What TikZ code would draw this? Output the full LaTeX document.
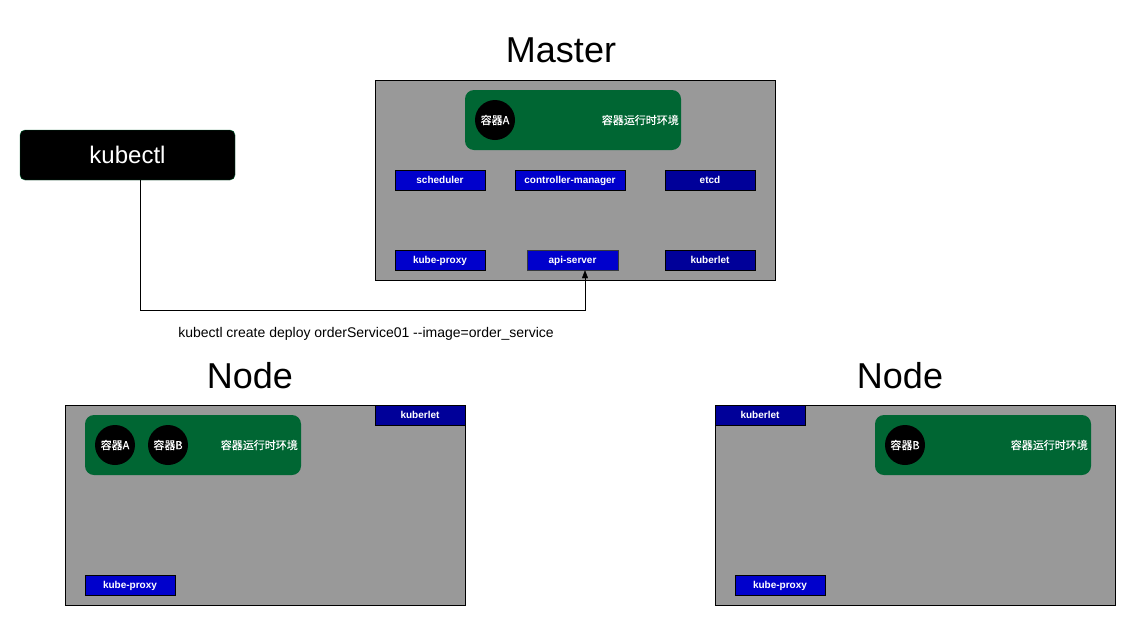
\documentclass[tikz,border=0pt]{standalone}
\usepackage{fontspec}
\setmainfont{Liberation Sans}
\newfontfamily\cjk{Noto Sans CJK SC}[FakeBold=0.4]
\usetikzlibrary{arrows.meta}
\definecolor{boxgrey}{HTML}{999999}
\definecolor{rtgreen}{HTML}{006633}
\definecolor{compblue}{HTML}{0000CC}
\definecolor{darkblue}{HTML}{000099}
\definecolor{edgegrey}{HTML}{36393D}
\begin{document}
\begin{tikzpicture}[x=1pt,y=-1pt]
    \tikzstyle{every node}+=[inner sep=0pt]
    \tikzstyle{host}=[draw=black,fill=boxgrey,minimum width=400pt,minimum height=200pt]
    \tikzstyle{runtime}=[fill=rtgreen,rounded corners=9pt,minimum width=216pt,minimum height=60pt]
    \tikzstyle{pod}=[circle,fill=black,minimum size=40pt,text=white,font=\cjk\fontsize{11}{11}\selectfont]
    \tikzstyle{rttext}=[anchor=east,text=white,font=\cjk\fontsize{11}{11}\selectfont]
    \tikzstyle{comp}=[draw=black,fill=compblue,minimum width=90pt,minimum height=20pt,text height=7.5pt,text depth=0pt,text=white,font=\fontsize{10}{10}\selectfont\bfseries]
    \tikzstyle{dcomp}=[comp,fill=darkblue]
    \tikzstyle{title}=[font=\fontsize{36}{36}\selectfont]
    \useasboundingbox (0,0) rectangle (1136,627);
    \node [title] (mastertitle) at (561,50) {Master};
    \node [host] (master) at (575,180) {};
    \node [runtime] (mrt) at (573,120) {};
    \node [pod] (mpoda) at (495,120) {容器A};
    \node [rttext] (mrttext) at (679,120) {容器运行时环境};
    \node [comp] (msched) at (440,180) {scheduler};
    \node [comp,minimum width=110pt] (mctrl) at (570,180) {controller-manager};
    \node [dcomp] (metcd) at (710,180) {etcd};
    \node [comp] (mproxy) at (440,260) {kube-proxy};
    \node [comp,draw=edgegrey,minimum width=91pt] (apiserver) at (572.5,260) {api-server};
    \node [dcomp] (mkubelet) at (710,260) {kuberlet};
    \node [draw=rtgreen,fill=black,rounded corners=5pt,minimum width=215pt,minimum height=50pt,text height=17pt,text depth=0pt,text=white,font=\fontsize{24}{24}\selectfont] (kubectl) at (127.5,155) {kubectl};
    \draw [black,-{Triangle[length=8pt,width=6pt]}] ([xshift=12.5pt]kubectl.south) -- ++(0,130) -| ([xshift=12.5pt]apiserver.south);
    \node [font=\fontsize{14}{14}\selectfont] (cmd) at (366,334) {kubectl create deploy orderService01 -{}-image=order\_service};
    \node [title] (nodetitlea) at (250,376) {Node};
    \node [host] (nodea) at (265,505) {};
    \node [runtime] (art) at (193,445) {};
    \node [pod] (apoda) at (115,445) {容器A};
    \node [pod] (apodb) at (168,445) {容器B};
    \node [rttext] (arttext) at (298,445) {容器运行时环境};
    \node [dcomp] (akubelet) at (420,415) {kuberlet};
    \node [comp] (aproxy) at (130,585) {kube-proxy};
    \node [title] (nodetitleb) at (900,376) {Node};
    \node [host] (nodeb) at (915,505) {};
    \node [dcomp] (bkubelet) at (760,415) {kuberlet};
    \node [runtime] (brt) at (983,445) {};
    \node [pod] (bpodb) at (905,445) {容器B};
    \node [rttext] (brttext) at (1088,445) {容器运行时环境};
    \node [comp] (bproxy) at (780,585) {kube-proxy};
\end{tikzpicture}
\end{document}
